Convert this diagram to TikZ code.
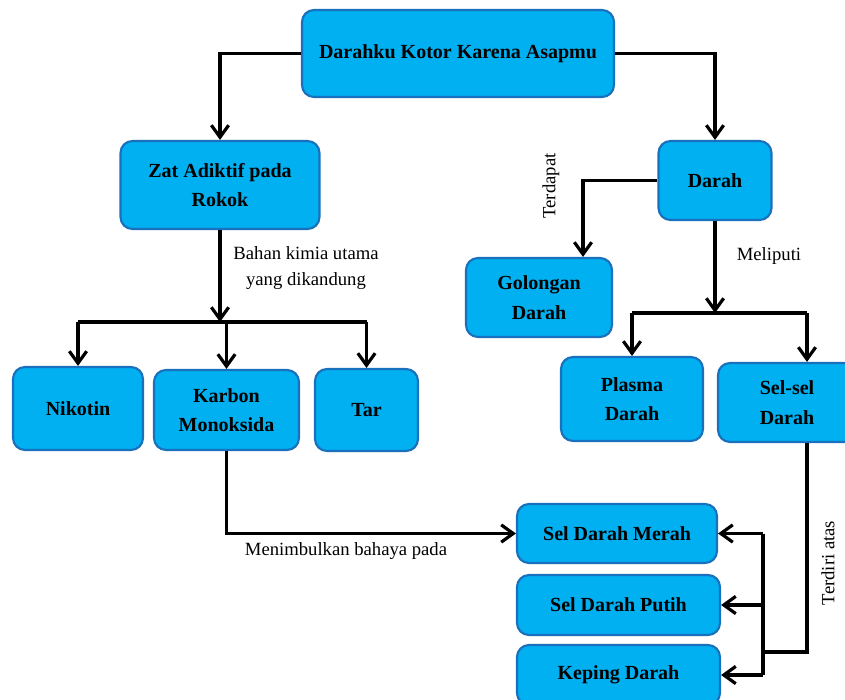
\documentclass[tikz,border=0pt]{standalone}
\usepackage{fontspec}
\setmainfont{Liberation Serif}
\usepackage{tikz}
\usetikzlibrary{arrows.meta}
\usetikzlibrary{calc}
\definecolor{isikotak}{RGB}{0,176,240}
\definecolor{tepikotak}{RGB}{25,112,188}

\begin{document}
\begin{tikzpicture}
[x=0.75pt,y=-0.75pt,
  boxdecorate/.style={shape=rectangle,rounded corners=9pt,draw=tepikotak,line width=1.6pt,
    fill=isikotak,align=center,inner sep=2pt,font=\bfseries\fontsize{15}{22}\selectfont},%
  linedecorate/.style={-,line width=2.4pt},
  arrowdecorate/.style={linedecorate,-{Straight Barb[length=9pt,width=13pt]}},
  labeldecorate/.style={align=center,inner sep=1pt,font=\fontsize{14}{19}\selectfont}]
\clip (0,0) rectangle (845,699);
%% boxes
\foreach \nama/\x/\y/\w/\h/\isi in {judul/458/53.5/312/87/Darahku Kotor Karena Asapmu,
  zat/220/185/199/88/Zat Adiktif pada\\Rokok, darah/715/180.5/113/79/Darah,
  golongan/539/297.5/146/79/Golongan\\Darah, nikotin/78/408.5/130/83/Nikotin,
  karbon/226.5/410/145/80/Karbon\\Monoksida, tar/366.5/410/103/82/Tar,
  plasma/632/399/142/84/Plasma\\Darah, selsel/787/402.5/138/79/Sel-sel\\Darah,
  merah/617/533.5/200/59/Sel Darah Merah, putih/618.5/605/203/60/Sel Darah Putih,
  keping/618.5/675/203/60/Keping Darah}
{
  \node (\nama) at (\x,\y) [boxdecorate,minimum width=\w*0.75pt,minimum height=\h*0.75pt] {\isi};
}
%% branch points
\coordinate (cabangkiri) at (222,322);
\coordinate (cabangkanan) at (718,313);
\coordinate (kanan) at (807,313);
\coordinate (terdapat) at (583,182);
\coordinate (pertemuan) at (763,652);
%% connectors
\draw[arrowdecorate] (judul.west) -| (zat.north);
\draw[arrowdecorate] (judul.east) -| (darah.north);
\draw[arrowdecorate] (zat.south) -- (zat.south |- cabangkiri);
\draw[linedecorate] (nikotin.north |- cabangkiri) -- (tar.north |- cabangkiri);
\foreach \anak in {nikotin,karbon,tar}
  \draw[arrowdecorate] (\anak.north |- cabangkiri) -- (\anak.north);
\draw[arrowdecorate] (darah.west) -| (terdapat |- golongan.north);
\draw[arrowdecorate] (darah.south) -- (darah.south |- cabangkanan);
\draw[linedecorate] (plasma.north |- cabangkanan) -- (kanan);
\draw[arrowdecorate] (plasma.north |- cabangkanan) -- (plasma.north);
\draw[arrowdecorate] (kanan) -- (kanan |- selsel.north);
\draw[linedecorate] (kanan |- selsel.south) |- (pertemuan);
\draw[linedecorate] (pertemuan |- merah.east) -- (pertemuan |- keping.east);
\foreach \anak in {merah,putih,keping}
  \draw[arrowdecorate] (pertemuan |- \anak.east) -- (\anak.east);
\draw[arrowdecorate] (karbon.south) |- (merah.west);
%% connector labels
\node (lblbahan) at (306,268) [labeldecorate] {Bahan kimia utama\\yang dikandung};
\node (lblterdapat) at (551,186) [labeldecorate,rotate=90] {Terdapat};
\node (lblmeliputi) at (769,256) [labeldecorate] {Meliputi};
\node (lblbahaya) at (346,551) [labeldecorate] {Menimbulkan bahaya pada};
\node (lblterdiri) at (828,563) [labeldecorate,rotate=90] {Terdiri atas};
\end{tikzpicture}
\end{document}
